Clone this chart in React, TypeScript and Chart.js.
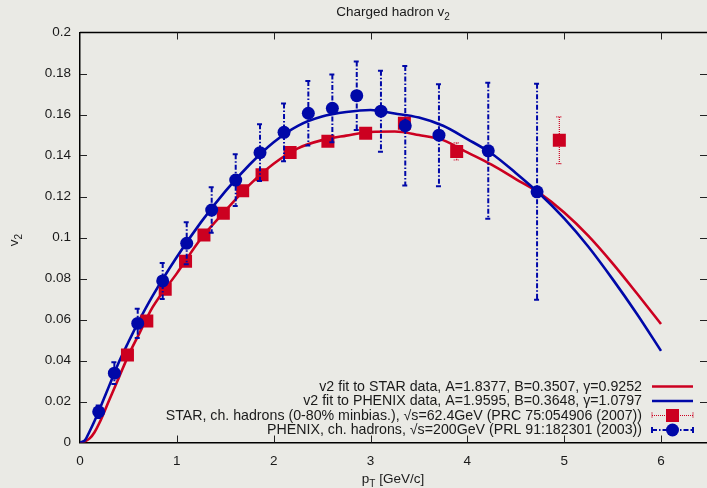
import React, { useEffect, useRef } from "react";
import { Chart, registerables } from "chart.js";

Chart.register(...registerables);

// ---------- data ----------
const xTickValues = [0, 1, 2, 3, 4, 5, 6];

const phenixPt = [0.193, 0.355, 0.596, 0.854, 1.102, 1.36, 1.608, 1.859, 2.107, 2.358, 2.606, 2.858, 3.108, 3.359, 3.707, 4.216, 4.72];
const phenixV2 = [0.015, 0.0338, 0.0581, 0.0788, 0.0972, 0.1134, 0.128, 0.1414, 0.1513, 0.1606, 0.163, 0.1692, 0.1616, 0.1545, 0.1499, 0.1423, 0.1223];
const phenixErr = [0.003, 0.0053, 0.0071, 0.0088, 0.0102, 0.0111, 0.0126, 0.0138, 0.0141, 0.0157, 0.0165, 0.0167, 0.0198, 0.0291, 0.0249, 0.0332, 0.0527];

const starPt = [0.49, 0.69, 0.88, 1.09, 1.28, 1.48, 1.68, 1.88, 2.17, 2.56, 2.95, 3.35, 3.89, 4.95];
const starV2 = [0.0427, 0.0593, 0.0747, 0.0884, 0.1012, 0.1118, 0.1228, 0.1306, 0.1415, 0.1469, 0.1508, 0.1557, 0.142, 0.1474];
const starErr = [0.001, 0.001, 0.0012, 0.0014, 0.0015, 0.0016, 0.0018, 0.002, 0.002, 0.0022, 0.0025, 0.0028, 0.0042, 0.0114];

const fitPt = [0, 0.05, 0.1, 0.15, 0.2, 0.3, 0.4, 0.5, 0.6, 0.75, 1.0, 1.25, 1.5, 1.75, 2.0, 2.25, 2.5, 2.75, 3.0, 3.25, 3.5, 3.75, 4.0, 4.25, 4.5, 4.75, 5.0, 5.25, 5.5, 5.75, 6.0];
const starFit = [0, 0.0005, 0.002, 0.005, 0.0095, 0.0205, 0.0315, 0.0425, 0.052, 0.066, 0.0825, 0.0995, 0.113, 0.1257, 0.136, 0.1435, 0.1475, 0.1497, 0.1515, 0.1517, 0.15, 0.1475, 0.1415, 0.1355, 0.1285, 0.1215, 0.1122, 0.1008, 0.0874, 0.0728, 0.0578];
const phenixFit = [0, 0.001, 0.0055, 0.0105, 0.016, 0.0275, 0.039, 0.049, 0.0585, 0.0715, 0.0905, 0.1075, 0.1225, 0.1355, 0.1465, 0.1545, 0.159, 0.1612, 0.1622, 0.1605, 0.1585, 0.1545, 0.148, 0.141, 0.1315, 0.1212, 0.1093, 0.0955, 0.0797, 0.0628, 0.0447];

const legendLabels = [
  "v2 fit to STAR data, A=1.8377, B=0.3507, \u03b3=0.9252",
  "v2 fit to PHENIX data, A=1.9595, B=0.3648, \u03b3=1.0797",
  "STAR, ch. hadrons (0-80% minbias.), \u221as=62.4GeV (PRC 75:054906 (2007))",
  "PHENIX, ch. hadrons, \u221as=200GeV (PRL 91:182301 (2003))",
];

// ---------- styles ----------
const RED = "#cc0020";
const BLUE = "#0008a8";
const BG = "#eaeae5";
const TEXT = "#1a1a1a";
const FONT = "'Liberation Sans', Arial, Helvetica, sans-serif";

function toPts(xs: number[], ys: number[]) {
  return xs.map((x, i) => ({ x, y: ys[i] }));
}

function drawErrBar(ctx: CanvasRenderingContext2D, x: number, top: number, bot: number, cap: number) {
  ctx.beginPath();
  ctx.moveTo(x, top);
  ctx.lineTo(x, bot);
  ctx.moveTo(x - cap, top);
  ctx.lineTo(x + cap, top);
  ctx.moveTo(x - cap, bot);
  ctx.lineTo(x + cap, bot);
  ctx.stroke();
}

function drawSubText(
  ctx: CanvasRenderingContext2D,
  parts: { t: string; sub?: boolean }[],
  x: number,
  y: number,
  size: number,
  align: "center" | "left" | "right"
) {
  const subSize = Math.round(size * 0.72);
  const widths = parts.map((p) => {
    ctx.font = `${p.sub ? subSize : size}px ${FONT}`;
    return ctx.measureText(p.t).width;
  });
  const total = widths.reduce((a, b) => a + b, 0);
  let cx = align === "center" ? x - total / 2 : align === "right" ? x - total : x;
  ctx.textAlign = "left";
  ctx.textBaseline = "alphabetic";
  parts.forEach((p, i) => {
    ctx.font = `${p.sub ? subSize : size}px ${FONT}`;
    ctx.fillText(p.t, cx, p.sub ? y + size * 0.3 : y);
    cx += widths[i];
  });
}

export default function App() {
  const ref = useRef<HTMLCanvasElement | null>(null);

  useEffect(() => {
    document.body.style.margin = "0";
    document.body.style.background = BG;
    const canvas = ref.current;
    if (!canvas) return;

    const bgPlugin = {
      id: "bg",
      beforeDraw(chart: any) {
        const ctx = chart.ctx;
        ctx.save();
        ctx.fillStyle = BG;
        ctx.fillRect(0, 0, chart.width, chart.height);
        ctx.restore();
      },
    };

    const framePlugin = {
      id: "frame",
      beforeDatasetsDraw(chart: any) {
        const ctx = chart.ctx;
        const a = chart.chartArea;
        const xs = chart.scales.x;
        const ys = chart.scales.y;
        ctx.save();
        ctx.strokeStyle = "#000";
        ctx.lineWidth = 1.5;
        ctx.beginPath();
        ctx.moveTo(a.left, a.top);
        ctx.lineTo(a.right, a.top);
        ctx.stroke();
        ctx.lineWidth = 1;
        ctx.strokeStyle = "#222";
        const L = 7;
        ctx.beginPath();
        xs.ticks.forEach((t: any) => {
          const px = Math.round(xs.getPixelForValue(t.value)) + 0.5;
          if (t.value === 0) return;
          ctx.moveTo(px, a.bottom);
          ctx.lineTo(px, a.bottom - L);
          ctx.moveTo(px, a.top);
          ctx.lineTo(px, a.top + L);
        });
        ys.ticks.forEach((t: any) => {
          const py = Math.round(ys.getPixelForValue(t.value)) + 0.5;
          if (t.value === 0 || t.value >= 0.2) return;
          ctx.moveTo(a.left, py);
          ctx.lineTo(a.left + L, py);
          ctx.moveTo(a.right, py);
          ctx.lineTo(a.right - L, py);
        });
        ctx.stroke();
        ctx.restore();
      },
    };

    const errPlugin = {
      id: "errbars",
      beforeDatasetDraw(chart: any, args: any) {
        const ds = chart.data.datasets[args.index];
        if (!ds.errors) return;
        const ctx = chart.ctx;
        const xs = chart.scales.x;
        const ys = chart.scales.y;
        ctx.save();
        ctx.strokeStyle = ds.errColor;
        ctx.lineWidth = ds.errWidth;
        ctx.setLineDash(ds.errDash);
        ds.data.forEach((p: any, i: number) => {
          const e = ds.errors[i];
          const px = xs.getPixelForValue(p.x);
          drawErrBar(ctx, px, ys.getPixelForValue(p.y + e), ys.getPixelForValue(p.y - e), 3);
        });
        ctx.restore();
      },
    };

    const textPlugin = {
      id: "texts",
      afterDraw(chart: any) {
        const ctx = chart.ctx;
        ctx.save();
        ctx.fillStyle = TEXT;
        // title
        drawSubText(ctx, [{ t: "Charged hadron v" }, { t: "2", sub: true }], 393, 16, 13.5, "center");
        // x title
        drawSubText(ctx, [{ t: "p" }, { t: "T", sub: true }, { t: " [GeV/c]" }], 393, 482.5, 13.5, "center");
        // y title
        ctx.save();
        ctx.translate(18, 240);
        ctx.rotate(-Math.PI / 2);
        drawSubText(ctx, [{ t: "v" }, { t: "2", sub: true }], 0, 0, 13.5, "center");
        ctx.restore();

        // legend
        const textRight = 642;
        const sx0 = 652;
        const sx1 = 693;
        const rows = [386.5, 401, 415.5, 430];
        ctx.font = `14.2px ${FONT}`;
        ctx.textAlign = "right";
        ctx.textBaseline = "middle";
        legendLabels.forEach((lab, i) => {
          ctx.fillStyle = TEXT;
          ctx.fillText(lab, textRight, rows[i] + 0.5);
        });
        // line samples
        ctx.lineWidth = 2.6;
        ctx.strokeStyle = RED;
        ctx.beginPath();
        ctx.moveTo(sx0, rows[0]);
        ctx.lineTo(sx1, rows[0]);
        ctx.stroke();
        ctx.strokeStyle = BLUE;
        ctx.beginPath();
        ctx.moveTo(sx0, rows[1]);
        ctx.lineTo(sx1, rows[1]);
        ctx.stroke();
        // STAR sample
        const mid = (sx0 + sx1) / 2;
        ctx.strokeStyle = RED;
        ctx.lineWidth = 1.2;
        ctx.setLineDash([1, 1]);
        ctx.beginPath();
        ctx.moveTo(sx0, rows[2]);
        ctx.lineTo(sx1, rows[2]);
        ctx.moveTo(sx0, rows[2] - 3);
        ctx.lineTo(sx0, rows[2] + 3);
        ctx.moveTo(sx1, rows[2] - 3);
        ctx.lineTo(sx1, rows[2] + 3);
        ctx.stroke();
        ctx.setLineDash([]);
        ctx.fillStyle = RED;
        ctx.fillRect(mid - 6.5, rows[2] - 6.5, 13, 13);
        // PHENIX sample
        ctx.strokeStyle = BLUE;
        ctx.lineWidth = 2;
        ctx.setLineDash([5, 2, 1.5, 2]);
        ctx.beginPath();
        ctx.moveTo(sx0, rows[3]);
        ctx.lineTo(sx1, rows[3]);
        ctx.stroke();
        ctx.setLineDash([]);
        ctx.beginPath();
        ctx.moveTo(sx0, rows[3] - 3);
        ctx.lineTo(sx0, rows[3] + 3);
        ctx.moveTo(sx1, rows[3] - 3);
        ctx.lineTo(sx1, rows[3] + 3);
        ctx.stroke();
        ctx.fillStyle = BLUE;
        ctx.beginPath();
        ctx.arc(mid, rows[3], 6.5, 0, Math.PI * 2);
        ctx.fill();
        ctx.restore();
      },
    };

    const chart = new Chart(canvas, {
      type: "scatter",
      data: {
        datasets: [
          {
            label: "PHENIX",
            data: toPts(phenixPt, phenixV2),
            showLine: false,
            pointStyle: "circle",
            pointRadius: 6.5,
            pointBorderWidth: 0,
            backgroundColor: BLUE,
            borderColor: BLUE,
            order: 0,
            errors: phenixErr,
            errColor: BLUE,
            errWidth: 2,
            errDash: [5, 2, 1.5, 2],
          } as any,
          {
            label: "STAR",
            data: toPts(starPt, starV2),
            showLine: false,
            pointStyle: "rect",
            pointRadius: 9.2,
            pointBorderWidth: 0,
            backgroundColor: RED,
            borderColor: RED,
            order: 1,
            errors: starErr,
            errColor: RED,
            errWidth: 1.2,
            errDash: [1, 1],
          } as any,
          {
            label: "PHENIX fit",
            data: toPts(fitPt, phenixFit),
            showLine: true,
            pointRadius: 0,
            borderColor: BLUE,
            borderWidth: 2.6,
            cubicInterpolationMode: "monotone",
            order: 2,
          } as any,
          {
            label: "STAR fit",
            data: toPts(fitPt, starFit),
            showLine: true,
            pointRadius: 0,
            borderColor: RED,
            borderWidth: 2.6,
            cubicInterpolationMode: "monotone",
            order: 3,
          } as any,
        ],
      },
      options: {
        animation: false,
        responsive: false,
        devicePixelRatio: 1,
        layout: { autoPadding: false, padding: { top: 32.5, right: 0, left: 0, bottom: 0 } },
        plugins: {
          legend: { display: false },
          tooltip: { enabled: false },
          title: { display: false },
        },
        scales: {
          x: {
            type: "linear",
            min: 0,
            max: 6.475,
            afterBuildTicks: (s: any) => {
              s.ticks = xTickValues.map((v) => ({ value: v }));
            },
            afterFit: (s: any) => {
              s.height = 45.5;
            },
            grid: { display: true, drawOnChartArea: false, drawTicks: false },
            border: { display: true, color: "#000", width: 1.5 },
            ticks: {
              padding: 11,
              color: TEXT,
              font: { family: FONT, size: 13.5 },
              maxRotation: 0,
              autoSkip: false,
              callback: (v: any) => String(v),
            },
          },
          y: {
            type: "linear",
            min: 0,
            max: 0.2,
            afterFit: (s: any) => {
              s.width = 80;
            },
            grid: { display: true, drawOnChartArea: false, drawTicks: false },
            border: { display: true, color: "#000", width: 1.5 },
            ticks: {
              stepSize: 0.02,
              padding: 9,
              color: TEXT,
              font: { family: FONT, size: 13.5 },
              callback: (v: any) => String(Math.round(Number(v) * 100) / 100),
            },
          },
        },
      },
      plugins: [bgPlugin, framePlugin, errPlugin, textPlugin],
    });

    return () => chart.destroy();
  }, []);

  return (
    <div style={{ width: 707, height: 488, background: BG }}>
      <canvas ref={ref} width={707} height={488} style={{ display: "block" }} />
    </div>
  );
}
